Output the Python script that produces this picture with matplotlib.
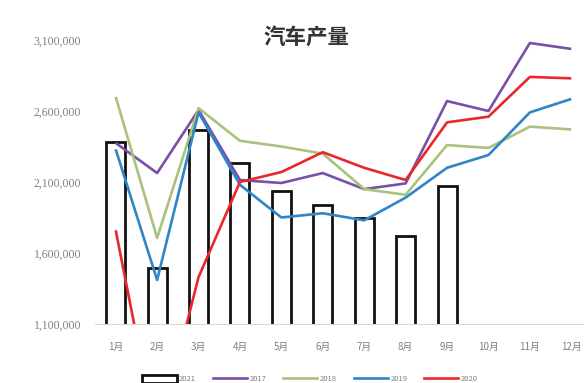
import matplotlib
matplotlib.use("Agg")
import matplotlib.pyplot as plt
from matplotlib.ticker import FuncFormatter
from matplotlib.patches import Patch
from matplotlib.lines import Line2D

plt.rcParams['font.family'] = ['Noto Sans CJK SC', 'DejaVu Sans']

months = ["1月", "2月", "3月", "4月", "5月", "6月", "7月", "8月", "9月", "10月", "11月", "12月"]

# monthly vehicle output (units)
prod_2021 = [2382000, 1494000, 2466000, 2234000, 2037000, 1938000, 1846000, 1720000, 2072000]
prod_2017 = [2375000, 2163000, 2607000, 2114000, 2093000, 2163000, 2050000, 2090000, 2670000, 2600000, 3079000, 3037000]
prod_2018 = [2700000, 1706000, 2620000, 2390000, 2350000, 2300000, 2050000, 2010000, 2360000, 2340000, 2490000, 2470000]
prod_2019 = [2330000, 1410000, 2590000, 2080000, 1850000, 1880000, 1830000, 1990000, 2200000, 2290000, 2590000, 2685000]
prod_2020 = [1760000, 280000, 1430000, 2100000, 2170000, 2310000, 2200000, 2114000, 2520000, 2560000, 2840000, 2830000]

series = [
    ("2017", prod_2017, "#7A4FA8"),
    ("2018", prod_2018, "#A9C27C"),
    ("2019", prod_2019, "#2E86C8"),
    ("2020", prod_2020, "#E8282A"),
]

W, H = 584, 383
fig = plt.figure(figsize=(W / 100, H / 100), dpi=100)
fig.patch.set_facecolor("white")

left, right, top, bottom = 95, 592, 40, 324
ax = fig.add_axes([left / W, (H - bottom) / H, (right - left) / W, (bottom - top) / H])

x = list(range(len(months)))
ax.bar(x[:len(prod_2021)], prod_2021, width=0.46, facecolor="white",
       edgecolor="#111111", linewidth=2.0, zorder=2)

for name, vals, color in series:
    ax.plot(x, vals, color=color, linewidth=1.9, zorder=3, solid_capstyle="butt")

ax.set_xlim(-0.5, 11.5)
ax.set_ylim(1100000, 3100000)
ax.set_yticks([1100000, 1600000, 2100000, 2600000, 3100000])
ax.yaxis.set_major_formatter(FuncFormatter(lambda v, p: f"{int(v):,}"))
ax.set_xticks(x)
ax.set_xticklabels(months)

for s in ["top", "right", "left"]:
    ax.spines[s].set_visible(False)
ax.spines["bottom"].set_color("#D9D9D9")
ax.spines["bottom"].set_linewidth(0.8)
ax.tick_params(axis="both", length=0, colors="#7F7F7F")
ax.tick_params(axis="y", pad=10, labelsize=8.5)
ax.tick_params(axis="x", pad=13, labelsize=7)
for lbl in ax.get_yticklabels():
    lbl.set_family(["Liberation Serif", "DejaVu Sans"])

fig.text(306 / W, 1 - 37.5 / H, "汽车产量", ha="center", va="center",
         fontsize=15.5, fontweight="bold", color="#333333")

handles = [Patch(facecolor="white", edgecolor="#111111", linewidth=2.0, label="2021")]
for name, vals, color in series:
    handles.append(Line2D([0], [0], color=color, linewidth=1.9, label=name))
fig.legend(handles=handles, loc="center", bbox_to_anchor=(310 / W, 1 - 379 / H),
           ncol=5, frameon=False, fontsize=5.5, handlelength=4.5, handleheight=1.3,
           handletextpad=0.3, columnspacing=2.2, labelcolor="#7F7F7F")

fig.savefig("out.png", dpi=100, facecolor="white")
